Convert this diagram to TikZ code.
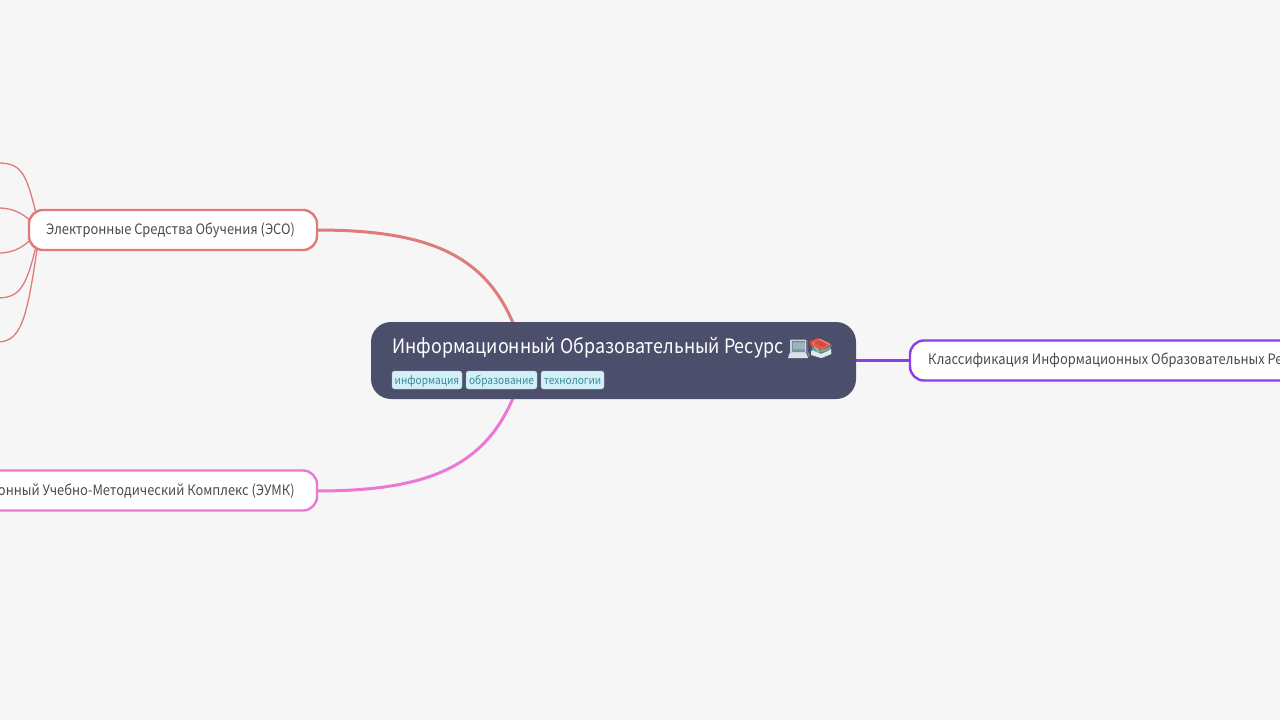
\documentclass[tikz,border=0pt]{standalone}
\usepackage{fontspec}
\setmainfont[FakeStretch=0.9]{Noto Sans CJK SC}
\newfontfamily\emojifont{Noto Emoji}
\definecolor{bgc}{HTML}{F6F6F6}
\definecolor{centerc}{HTML}{4C4F6B}
\definecolor{redc}{HTML}{E07B7B}
\definecolor{pinkc}{HTML}{EC78D4}
\definecolor{purplec}{HTML}{8A3FE8}
\definecolor{tagfill}{HTML}{D2F0F6}
\definecolor{tagtext}{HTML}{3B8A9C}
\definecolor{txtc}{HTML}{4A4A4A}
\definecolor{lapedge}{HTML}{C7D6DB}
\definecolor{lapscreen}{HTML}{6F8A96}
\definecolor{lapbase}{HTML}{DCE8EC}
\definecolor{bookpage}{HTML}{E0E8EA}
\definecolor{bookgreen}{HTML}{4F8F8C}
\definecolor{bookred}{HTML}{D9483B}
\tikzset{
 x=1pt,y=-1pt,
 branchbox/.style={draw=#1,line width=2.4pt,fill=white,rounded corners=14pt},
 boxlabel/.style={text=txtc,font=\fontsize{14.3}{16}\selectfont,inner sep=0pt},
 tagbox/.style={fill=tagfill,draw=tagfill!70!centerc,line width=.4pt,rounded corners=2.5pt,minimum height=18pt,inner sep=0pt,text height=10pt,text depth=2pt,text=tagtext,font=\fontsize{11.2}{14}\selectfont},
 mainlink/.style={draw=#1,line width=3pt},
 leaflink/.style={draw=redc,line width=1.3pt},
 emojitext/.style={inner sep=0pt,anchor=base west,font=\emojifont\fontsize{19}{22}\selectfont},
}
\begin{document}
\begin{tikzpicture}
\useasboundingbox (0,0) rectangle (1280,720);
\clip (0,0) rectangle (1280,720);
\fill[bgc] (0,0) rectangle (1280,720);
\coordinate (l1) at (-2,163);
\coordinate (l2) at (-2,208);
\coordinate (l3) at (-2,253);
\coordinate (l4) at (-2,298);
\coordinate (l5) at (-2,342);
\coordinate (esoroot) at (40,230);
\coordinate (ctop) at (518,336);
\coordinate (cbot) at (518,385);
\coordinate (cright) at (846,360.5);
\coordinate (cls) at (920,360.5);
\coordinate (esoE) at (316,230);
\coordinate (eumE) at (316,491);
\draw[mainlink=redc] (esoE) .. controls (430,230) and (490,255) .. (ctop);
\draw[mainlink=pinkc] (eumE) .. controls (430,491) and (490,466) .. (cbot);
\draw[mainlink=purplec] (cright) -- (cls);
\draw[leaflink] (l1) .. controls (24,163) and (27,175) .. (esoroot);
\draw[leaflink] (l2) .. controls (15,208) and (25,214) .. (esoroot);
\draw[leaflink] (l3) .. controls (15,253) and (25,247) .. (esoroot);
\draw[leaflink] (l4) .. controls (24,298) and (28,280) .. (esoroot);
\draw[leaflink] (l5) .. controls (24,342) and (28,310) .. (esoroot);
\draw[branchbox=redc] (29,210) rectangle (317,250);
\node[boxlabel,anchor=base west] (esot) at (46,234) {Электронные Средства Обучения (ЭСО)};
\draw[branchbox=pinkc] (-200,470.5) rectangle (317,510.5);
\node[boxlabel,anchor=base east] (eumt) at (295,495) {Электронный Учебно-Методический Комплекс (ЭУМК)};
\draw[branchbox=purplec] (910,340.5) rectangle (1500,380.5);
\node[boxlabel,anchor=base west] (clst) at (928,364.5) {Классификация Информационных Образовательных Ресурсов};
\fill[centerc,rounded corners=20pt] (371,322) rectangle (856,399);
\node[text=white,inner sep=0pt,anchor=base west,font=\fontsize{19.85}{24}\selectfont] (title) at (392,353.5) {Информационный Образовательный Ресурс};
% colour fills under the laptop and books glyphs
\fill[rounded corners=.8pt,fill=lapedge] (790,339.5) rectangle (806,353);
\fill[fill=lapscreen] (791.5,341) rectangle (804.5,351.5);
\fill[fill=lapbase] (790,353) -- (806,353) -- (808,358) -- (788,358) -- cycle;
\fill[fill=bookpage] (811,351) -- (822,346) -- (831,349) -- (831,354) -- (821,358) -- (811,355) -- cycle;
\fill[fill=bookgreen] (812,346) -- (822,342.5) -- (830,346) -- (830,350) -- (821,354) -- (812,350) -- cycle;
\fill[fill=bookred] (810,341) -- (818,338) -- (830,343) -- (829,347) -- (820,350) -- (810,345) -- cycle;
\node[emojitext,text=lapedge,opacity=.55] (em1) at (787,355) {💻};
\node[emojitext,text=white,opacity=.35] (em2) at (810,355) {📚};
\node[tagbox,minimum width=70pt] (t1) at (427,380) {информация};
\node[tagbox,minimum width=71pt] (t2) at (501.5,380) {образование};
\node[tagbox,minimum width=63pt] (t3) at (572.5,380) {технологии};
\end{tikzpicture}
\end{document}
